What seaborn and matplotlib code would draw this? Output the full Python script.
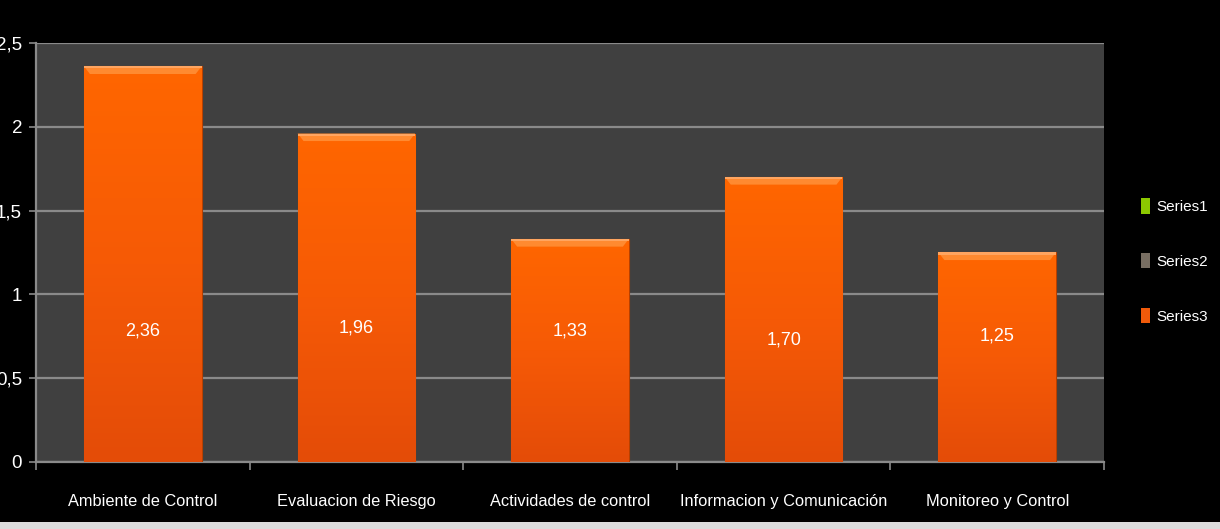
import numpy as np
import pandas as pd
import matplotlib
matplotlib.use("Agg")
import matplotlib.pyplot as plt
from matplotlib.patches import Polygon, Rectangle, Patch
import seaborn as sns

categories = ["Ambiente de Control", "Evaluacion de Riesgo", "Actividades de control",
              "Informacion y Comunicación", "Monitoreo y Control"]
values = [2.36, 1.96, 1.33, 1.70, 1.25]
value_labels = ["2,36", "1,96", "1,33", "1,70", "1,25"]
label_heights = [0.78, 0.80, 0.78, 0.73, 0.75]
y_ticks = [0, 0.5, 1, 1.5, 2, 2.5]
y_tick_labels = ["0", "0,5", "1", "1,5", "2", "2,5"]
legend_names = ["Series1", "Series2", "Series3"]
legend_colors = ["#8cc800", "#786e62", "#f05a0a"]

sns.set_theme(style="dark")
plt.rcParams["font.family"] = ["Liberation Sans", "DejaVu Sans"]

df = pd.DataFrame({"cat": categories, "val": values})

fig = plt.figure(figsize=(12.2, 5.29), dpi=100, facecolor="black")
ax = fig.add_axes([36 / 1220, 67 / 529, (1104 - 36) / 1220, (462 - 43) / 529])
ax.set_facecolor("#404040")

sns.barplot(data=df, x="cat", y="val", color="#f85e08", width=0.55,
            saturation=1, ax=ax, zorder=3)

# vertical orange gradient and a bevelled top on every bar
grad = np.linspace(0, 1, 256).reshape(-1, 1)
cmap = matplotlib.colors.LinearSegmentedColormap.from_list(
    "bar", ["#e44c08", "#f65a06", "#ff6600"])
for p in ax.patches:
    x0, w, h = p.get_x(), p.get_width(), p.get_height()
    p.set_edgecolor("#b84000")
    p.set_linewidth(0.8)
    im = ax.imshow(grad, extent=[x0, x0 + w, 0, h], origin="lower",
                   cmap=cmap, aspect="auto", zorder=3.5)
    im.set_clip_path(p)
    b = 0.045
    dx = w * 0.05
    ax.add_patch(Polygon([[x0, h], [x0 + w, h], [x0 + w - dx, h - b], [x0 + dx, h - b]],
                         closed=True, facecolor="#ff8a30", edgecolor="none", zorder=4))
    ax.add_patch(Rectangle((x0, h - 0.012), w, 0.012, facecolor="#ffa560",
                           edgecolor="none", zorder=4))

for i, (lab, yh) in enumerate(zip(value_labels, label_heights)):
    ax.text(i, yh, lab, color="white", ha="center", va="center", fontsize=13, zorder=6)

ax.set_xlim(-0.5, len(categories) - 0.5)
ax.set_ylim(0, 2.5)
ax.set_yticks(y_ticks)
ax.set_yticklabels(y_tick_labels)
ax.grid(axis="y", color="#8a8a8a", linewidth=1.6, zorder=1)
ax.grid(axis="x", visible=False)
ax.set_axisbelow(True)
ax.set_xlabel("")
ax.set_ylabel("")

ax.set_xticks(range(len(categories)))
ax.set_xticklabels(categories)
ax.set_xticks(np.arange(-0.5, len(categories), 1), minor=True)
ax.tick_params(axis="x", which="major", length=0, pad=23, labelsize=11.8, labelcolor="white")
ax.tick_params(axis="x", which="minor", length=6, width=1.2, color="#8a8a8a", bottom=True)
ax.tick_params(axis="y", length=5, width=1.2, color="#8a8a8a", pad=5, labelsize=13.5,
               labelcolor="white", left=True)

for s in ["top", "right"]:
    ax.spines[s].set_visible(False)
for s in ["left", "bottom"]:
    ax.spines[s].set_visible(True)
    ax.spines[s].set_color("#8a8a8a")
    ax.spines[s].set_linewidth(1.6)

handles = [Patch(facecolor=c, edgecolor="none") for c in legend_colors]
leg = fig.legend(handles, legend_names, loc="center left", bbox_to_anchor=(1127 / 1220, 0.507),
                 frameon=False, fontsize=11, labelcolor="white", handlelength=0.6,
                 handleheight=1.2, handletextpad=0.4, labelspacing=2.55)

# strip of spreadsheet cells along the bottom edge
fig.patches.append(Rectangle((0, 0), 1, 7 / 529, transform=fig.transFigure,
                             facecolor="#dcdcdc", edgecolor="none", zorder=0))

fig.savefig("out.png", dpi=100, facecolor="black")
